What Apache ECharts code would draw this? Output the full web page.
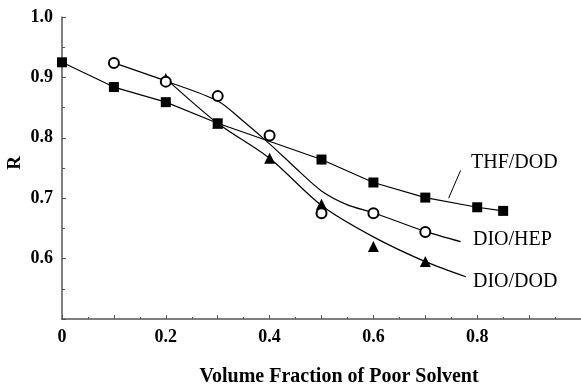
<!DOCTYPE html>
<html>
<head>
<meta charset="utf-8">
<script src="https://cdn.jsdelivr.net/npm/echarts@6/dist/echarts.min.js"></script>
<style>
  html, body { margin: 0; padding: 0; background: #fff; }
  #chart { width: 581px; height: 386px; }
</style>
</head>
<body>
<div id="chart"></div>
<script>
// Measured points
const thfX = [0, 0.1, 0.2, 0.3, 0.5, 0.6, 0.7, 0.8, 0.85];
const thfR = [0.925, 0.884, 0.859, 0.824, 0.764, 0.726, 0.701, 0.685, 0.679];
const hepX = [0.1, 0.2, 0.3, 0.4, 0.5, 0.6, 0.7];
const hepR = [0.924, 0.893, 0.869, 0.804, 0.675, 0.675, 0.644];
const dodX = [0.2, 0.3, 0.4, 0.5, 0.6, 0.7];
const dodR = [0.898, 0.824, 0.766, 0.690, 0.620, 0.595];

// Trend curves (running on into the label leaders)
const hepFitX = [0.1, 0.2, 0.3, 0.35, 0.4, 0.45, 0.5, 0.55, 0.6, 0.7, 0.768];
const hepFitR = [0.924, 0.894, 0.861, 0.827, 0.790, 0.750, 0.712, 0.689, 0.676, 0.645, 0.628];
const dodFitX = [0.2, 0.3, 0.4, 0.5, 0.6, 0.7, 0.778];
const dodFitR = [0.898, 0.824, 0.766, 0.688, 0.636, 0.595, 0.570];
const thfLeaderX = [0.745, 0.768];
const thfLeaderR = [0.700, 0.746];

// Axis tick labels
const xLabels = [0, 0.2, 0.4, 0.6, 0.8];
const yLabels = [0.6, 0.7, 0.8, 0.9, 1.0];

const zip = (xs, ys) => xs.map((x, i) => [x, ys[i]]);
const near = (list, v) => list.some(t => Math.abs(t - v) < 1e-6);

const serif = '"Liberation Serif", "Times New Roman", serif';
const axisColor = '#555';

const chart = echarts.init(document.getElementById('chart'), null, { renderer: 'canvas' });

const curve = (data) => ({
  type: 'line',
  data: data,
  smooth: 0.3,
  showSymbol: false,
  symbol: 'none',
  lineStyle: { color: '#000', width: 1.2 },
  z: 2,
  silent: true
});

chart.setOption({
  animation: false,
  backgroundColor: '#fff',
  grid: { left: 62, top: 17, width: 525, height: 302, containLabel: false },
  xAxis: {
    type: 'value',
    min: 0,
    max: 1.0,
    interval: 0.1,
    axisLine: { show: true, lineStyle: { color: axisColor, width: 1.5 } },
    axisTick: { show: true, inside: true, length: 4, lineStyle: { color: axisColor, width: 1 } },
    minorTick: { show: true, splitNumber: 2, length: 2, lineStyle: { color: axisColor, width: 1 } },
    splitLine: { show: false },
    axisLabel: {
      margin: 9,
      color: '#000',
      fontFamily: serif,
      fontWeight: 'bold',
      fontSize: 18,
      showMaxLabel: false,
      formatter: v => near(xLabels, v) ? (v === 0 ? '0' : v.toFixed(1)) : ''
    }
  },
  yAxis: {
    type: 'value',
    min: 0.5,
    max: 1.0,
    interval: 0.1,
    axisLine: { show: true, lineStyle: { color: axisColor, width: 1.5 } },
    axisTick: { show: true, inside: true, length: 4, lineStyle: { color: axisColor, width: 1 } },
    minorTick: { show: true, splitNumber: 2, length: 3, lineStyle: { color: axisColor, width: 1 } },
    splitLine: { show: false },
    axisLabel: {
      margin: 9,
      color: '#000',
      fontFamily: serif,
      fontWeight: 'bold',
      fontSize: 18,
      formatter: v => near(yLabels, v) ? v.toFixed(1) : ''
    }
  },
  graphic: [
    { type: 'text', left: 6, top: 156, rotation: Math.PI / 2,
      style: { text: 'R', fontFamily: serif, fontWeight: 'bold', fontSize: 19, fill: '#000' } },
    { type: 'text', x: 339, y: 377,
      style: { text: 'Volume Fraction of Poor Solvent', fontFamily: serif, fontWeight: 'bold', fontSize: 20,
               fill: '#000', align: 'center', verticalAlign: 'middle' } },
    { type: 'text', x: 471, y: 163,
      style: { text: 'THF/DOD', fontFamily: serif, fontSize: 20, fill: '#000', verticalAlign: 'middle' } },
    { type: 'text', x: 473, y: 240,
      style: { text: 'DIO/HEP', fontFamily: serif, fontSize: 20, fill: '#000', verticalAlign: 'middle' } },
    { type: 'text', x: 473, y: 282,
      style: { text: 'DIO/DOD', fontFamily: serif, fontSize: 20, fill: '#000', verticalAlign: 'middle' } }
  ],
  series: [
    curve(zip(hepFitX, hepFitR)),
    curve(zip(dodFitX, dodFitR)),
    {
      type: 'line', data: zip(thfLeaderX, thfLeaderR), symbol: 'none',
      lineStyle: { color: '#000', width: 1 }, z: 2, silent: true
    },
    {
      name: 'THF/DOD', type: 'line', data: zip(thfX, thfR),
      symbol: 'rect', symbolSize: 10,
      itemStyle: { color: '#000' },
      lineStyle: { color: '#000', width: 1.2 }, z: 4
    },
    {
      name: 'DIO/HEP', type: 'scatter', data: zip(hepX, hepR),
      symbol: 'circle', symbolSize: 10,
      itemStyle: { color: '#fff', borderColor: '#000', borderWidth: 2, opacity: 1 }, z: 5
    },
    {
      name: 'DIO/DOD', type: 'scatter', data: zip(dodX, dodR),
      symbol: 'triangle', symbolSize: 11,
      itemStyle: { color: '#000', opacity: 1 }, z: 3
    }
  ]
});
</script>
</body>
</html>
